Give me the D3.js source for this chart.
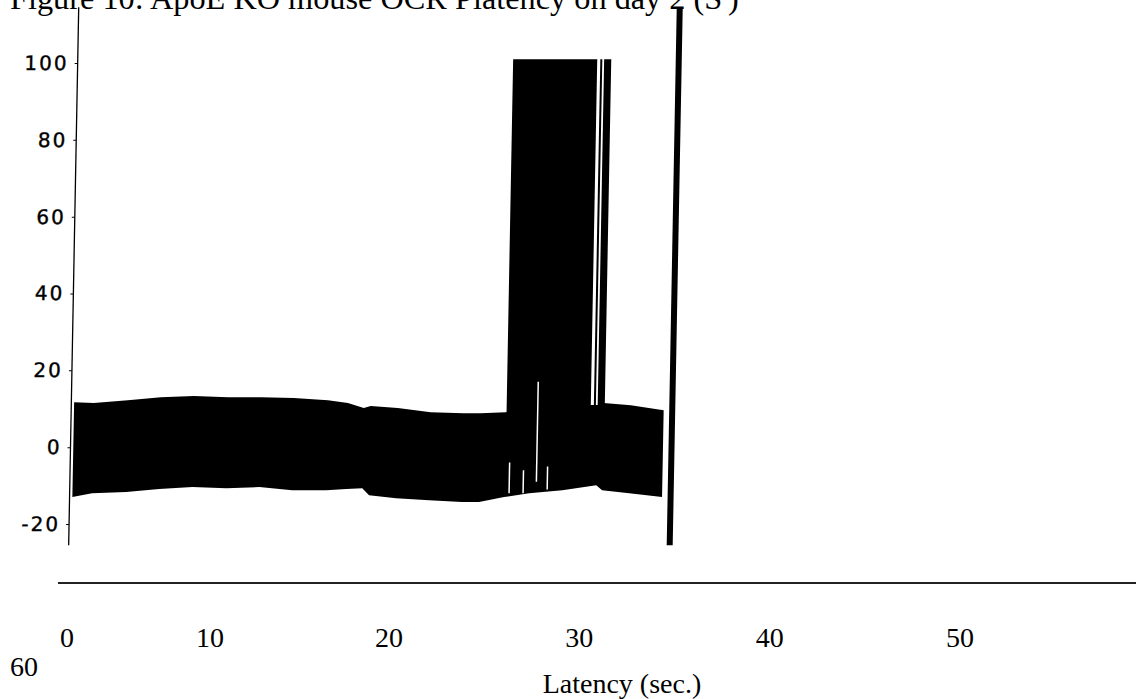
<!DOCTYPE html>
<html>
<head>
<meta charset="utf-8">
<script src="https://cdn.jsdelivr.net/npm/d3@7"></script>
<style>
  html, body { margin: 0; padding: 0; background: #fff; overflow: hidden; }
  svg { display: block; }
</style>
</head>
<body>
<div id="chart"></div>
<script>
const envTime   = [1.28, 2.36, 4.23, 6.04, 7.86, 9.73, 11.54, 13.35, 15.22, 16.32, 17.20, 17.58, 19.07, 20.88, 22.69, 23.63, 25.0, 26.37, 28.19, 30.05, 30.38, 31.87, 33.68];
const envUpper  = [11.7, 11.5, 12.2, 13.0, 13.3, 13.0, 13.0, 12.8, 12.2, 11.5, 10.2, 10.7, 10.2, 9.1, 8.8, 8.8, 9.1, 11.0, 11.0, 11.0, 11.5, 10.9, 9.6];
const envLower  = [-13.0, -12.0, -11.7, -10.9, -10.4, -10.7, -10.4, -11.2, -11.2, -10.9, -10.7, -12.5, -13.3, -13.8, -14.3, -14.3, -13.0, -12.0, -11.2, -9.9, -11.2, -12.0, -13.0];

// bursts that saturate at the top of the scale
const burstStart = [25.05, 29.84, 30.05];
const burstEnd   = [29.67, 29.95, 30.44];
const burstTop = 101;

// thin white gaps inside the trace
const gapTime = [25.27, 26.04, 26.76, 27.36];
const gapHigh = [-4, -6, 17, -5];
const gapLow  = [-12, -12, -9, -11];

// end-of-trial marker
const markerTime = [34.15];

const yTicks = [-20, 0, 20, 40, 60, 80, 100];
const xTicks = [0, 10, 20, 30, 40, 50, 60];
const titleText = "Figure 10: ApoE KO mouse OCR Platency on day 2 (S";
const xTitle = "Latency (sec.)";

const width = 1136, height = 699;
const pageLeft = 10, pageRight = 740;   // text column of the scanned page
const axisX = 70.5;
const yAxisTop = 114.5, yAxisBottom = -25.5;

const x = d3.scaleLinear().domain([0, 50]).range([50, 960]);
const y = d3.scaleLinear().domain([-20, 100]).range([524, 63]);

// tick labels were typed on the page, not placed by the plot
const xLabel = d3.scaleLinear().domain([0, 10, 20, 50]).range([67, 210, 389, 960]);

const svg = d3.select("#chart").append("svg")
    .attr("width", width).attr("height", height);

// title (top of the line is cut off by the page edge)
const title = svg.append("text")
    .attr("x", pageLeft).attr("y", 9)
    .style("font-family", "'Liberation Serif', 'Times New Roman', serif")
    .style("font-size", "27px")
    .text(titleText);
title.append("tspan").attr("baseline-shift", "super").style("font-size", "17px").text("-");
title.append("tspan").text(")");
const tw = title.node().getComputedTextLength();
title.style("font-size", (27 * (pageRight - pageLeft) / tw) + "px");

// the plot image is slightly skewed on the scan
const plot = svg.append("g")
    .attr("transform", `translate(0,${y(0)}) skewX(-1.07) translate(0,${-y(0)})`);

const area = d3.area()
    .x(d => x(d.t))
    .y0(d => y(d.lo))
    .y1(d => y(d.hi));

const env = envTime.map((t, i) => ({ t: t, hi: envUpper[i], lo: envLower[i] }));

plot.append("path")
    .datum(env)
    .attr("d", area)
    .attr("fill", "#000");

plot.selectAll("rect.burst").data(burstStart).enter().append("rect")
    .attr("class", "burst")
    .attr("x", d => x(d))
    .attr("width", (d, i) => x(burstEnd[i]) - x(d))
    .attr("y", y(burstTop))
    .attr("height", y(8) - y(burstTop))
    .attr("fill", "#000");

plot.selectAll("line.gap").data(gapTime).enter().append("line")
    .attr("class", "gap")
    .attr("x1", d => x(d)).attr("x2", d => x(d))
    .attr("y1", (d, i) => y(gapHigh[i]))
    .attr("y2", (d, i) => y(gapLow[i]))
    .attr("stroke", "#fff")
    .attr("stroke-width", 1.5);

plot.selectAll("line.marker").data(markerTime).enter().append("line")
    .attr("class", "marker")
    .attr("x1", d => x(d)).attr("x2", d => x(d))
    .attr("y1", y(yAxisTop)).attr("y2", y(yAxisBottom))
    .attr("stroke", "#000")
    .attr("stroke-width", 6);

// y axis
const yAxis = plot.append("g")
    .attr("transform", `translate(${axisX},0)`)
    .call(d3.axisLeft(y).tickValues(yTicks).tickSize(3).tickPadding(6).tickSizeOuter(0)
        .tickFormat(d => String(d)));
yAxis.select(".domain").remove();
yAxis.selectAll(".tick line").attr("stroke", "#000");
yAxis.selectAll(".tick text")
    .style("font-family", "'DejaVu Sans', sans-serif")
    .style("font-size", "20px")
    .style("letter-spacing", "2px")
    .attr("fill", "#000")
    .attr("stroke", "#000")
    .attr("stroke-width", 0.4);
yAxis.append("line")
    .attr("y1", y(yAxisTop)).attr("y2", y(yAxisBottom))
    .attr("stroke", "#000").attr("stroke-width", 1.3);

// x axis drawn on the page below the image
const lineY = 583;
svg.append("line")
    .attr("x1", 58).attr("x2", width)
    .attr("y1", lineY).attr("y2", lineY)
    .attr("stroke", "#222").attr("stroke-width", 2);

// tick labels typed as a line of text; the last one wraps to the next line
const serif = "'Liberation Serif', 'Times New Roman', serif";
const labelSize = 28;
const row1 = 647, row2 = 676;
const wraps = d => xLabel(d) > 1000;
svg.selectAll("text.xtick").data(xTicks).enter().append("text")
    .attr("class", "xtick")
    .attr("x", d => wraps(d) ? pageLeft : xLabel(d))
    .attr("y", d => wraps(d) ? row2 : row1)
    .attr("text-anchor", d => wraps(d) ? "start" : "middle")
    .style("font-family", serif)
    .style("font-size", labelSize + "px")
    .text(d => d);

svg.append("text")
    .attr("x", 622).attr("y", 693)
    .attr("text-anchor", "middle")
    .style("font-family", serif)
    .style("font-size", labelSize + "px")
    .text(xTitle);
</script>
</body>
</html>
